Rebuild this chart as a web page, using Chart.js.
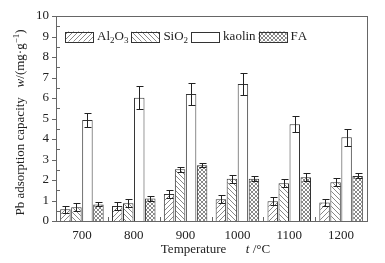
<!DOCTYPE html>
<html>
<head>
<meta charset="utf-8">
<script src="https://cdn.jsdelivr.net/npm/chart.js@4/dist/chart.umd.min.js"></script>
<style>
  html, body { margin: 0; padding: 0; background: #fff; }
  #wrap { width: 385px; height: 263px; }
</style>
</head>
<body>
<div id="wrap"><canvas id="chart" width="385" height="263"></canvas></div>
<script>
// data
const temperatures = ["700", "800", "900", "1000", "1100", "1200"];
const seriesNames = ["Al₂O₃", "SiO₂", "kaolin", "FA"];
const al2o3 = [0.57, 0.73, 1.32, 1.06, 0.96, 0.90];
const al2o3Err = [0.18, 0.20, 0.20, 0.20, 0.20, 0.15];
const sio2 = [0.67, 0.86, 2.52, 2.06, 1.84, 1.89];
const sio2Err = [0.20, 0.20, 0.12, 0.20, 0.20, 0.20];
const kaolin = [4.93, 6.01, 6.20, 6.68, 4.72, 4.08];
const kaolinErr = [0.33, 0.56, 0.52, 0.55, 0.40, 0.42];
const fa = [0.81, 1.10, 2.72, 2.06, 2.13, 2.20];
const faErr = [0.10, 0.10, 0.10, 0.12, 0.20, 0.12];
const yTicks = [0, 1, 2, 3, 4, 5, 6, 7, 8, 9, 10];

const FONT = "'Liberation Serif', 'Times New Roman', serif";
const INK = "#222";
const AXIS = "#666";

// hatch fills
function makePattern(kind) {
    const size = kind === "cross" ? 4 : 5;
    const c = document.createElement("canvas");
    c.width = size; c.height = size;
    const g = c.getContext("2d");
    g.fillStyle = "#fff";
    g.fillRect(0, 0, size, size);
    g.strokeStyle = "#555";
    g.lineWidth = 0.7;
    const fwd = () => {
        g.beginPath();
        g.moveTo(-1, size + 1); g.lineTo(size + 1, -1);
        g.moveTo(-1, 1); g.lineTo(1, -1);
        g.moveTo(size - 1, size + 1); g.lineTo(size + 1, size - 1);
        g.stroke();
    };
    const back = () => {
        g.beginPath();
        g.moveTo(-1, -1); g.lineTo(size + 1, size + 1);
        g.moveTo(size - 1, -1); g.lineTo(size + 1, 1);
        g.moveTo(-1, size - 1); g.lineTo(1, size + 1);
        g.stroke();
    };
    if (kind === "fwd") fwd();
    if (kind === "back") back();
    if (kind === "cross") { fwd(); back(); }
    return g.createPattern(c, "repeat");
}

const fills = [makePattern("fwd"), makePattern("back"), "#fff", makePattern("cross")];
const values = [al2o3, sio2, kaolin, fa];
const errors = [al2o3Err, sio2Err, kaolinErr, faErr];

// small rich-text helper: subscripts, superscripts, italics
const SUB = "₀₁₂₃₄₅₆₇₈₉";
function toParts(str) {
    const parts = [];
    for (const ch of str) {
        const i = SUB.indexOf(ch);
        if (i >= 0) parts.push([String(i), "sub"]);
        else parts.push([ch, ""]);
    }
    return parts;
}
function partFont(style, size) {
    if (style === "sub" || style === "sup") return `${Math.round(size * 0.68)}px ${FONT}`;
    if (style === "i") return `italic ${size}px ${FONT}`;
    return `${size}px ${FONT}`;
}
function richWidth(ctx, parts, size) {
    let w = 0;
    for (const [t, s] of parts) { ctx.font = partFont(s, size); w += ctx.measureText(t).width; }
    return w;
}
function drawRich(ctx, parts, x, y, size) {
    ctx.textBaseline = "middle";
    ctx.textAlign = "left";
    for (const [t, s] of parts) {
        ctx.font = partFont(s, size);
        let dy = 0;
        if (s === "sub") dy = size * 0.3;
        if (s === "sup") dy = -size * 0.35;
        ctx.fillText(t, x, y + dy);
        x += ctx.measureText(t).width;
    }
    return x;
}

const yTitle = [["Pb adsorption capacity", ""], ["   ", ""], ["w", "i"], ["/(mg·g", ""], ["−1", "sup"], [")", ""]];
const xTitle = [["Temperature", ""], ["      ", ""], ["t", "i"], [" /°C", ""]];

const decorPlugin = {
    id: "decor",
    afterDatasetsDraw(chart) {
        const ctx = chart.ctx;
        const area = chart.chartArea;
        const xs = chart.scales.x, ys = chart.scales.y;
        ctx.save();

        // error bars
        ctx.strokeStyle = INK;
        ctx.lineWidth = 1;
        chart.data.datasets.forEach((ds, di) => {
            const meta = chart.getDatasetMeta(di);
            meta.data.forEach((bar, i) => {
                const v = ds.data[i], e = errors[di][i];
                const x = Math.round(bar.x) + 0.5;
                const yt = Math.round(ys.getPixelForValue(v + e)) + 0.5;
                const yb = Math.round(ys.getPixelForValue(v - e)) + 0.5;
                ctx.beginPath();
                ctx.moveTo(x, yt); ctx.lineTo(x, yb);
                ctx.moveTo(x - 3, yt); ctx.lineTo(x + 4, yt);
                ctx.moveTo(x - 3, yb); ctx.lineTo(x + 4, yb);
                ctx.stroke();
            });
        });

        // frame
        ctx.strokeStyle = AXIS;
        ctx.strokeRect(Math.round(area.left) + 0.5, Math.round(area.top) + 0.5,
            Math.round(area.right - area.left), Math.round(area.bottom - area.top));

        // y ticks: major outward, minor inward
        ctx.beginPath();
        yTicks.forEach((t, i) => {
            const y = Math.round(ys.getPixelForValue(t)) + 0.5;
            ctx.moveTo(area.left - 4, y); ctx.lineTo(area.left, y);
            if (i < yTicks.length - 1) {
                const ym = Math.round(ys.getPixelForValue(t + 0.5)) + 0.5;
                ctx.moveTo(area.left, ym); ctx.lineTo(area.left + 4, ym);
            }
        });
        // x ticks between groups, inward
        const step = xs.getPixelForValue(1) - xs.getPixelForValue(0);
        for (let i = 0; i < temperatures.length - 1; i++) {
            const x = Math.round(xs.getPixelForValue(i) + step / 2) + 0.5;
            ctx.moveTo(x, area.bottom); ctx.lineTo(x, area.bottom - 4);
        }
        ctx.stroke();

        // legend inside the plot
        ctx.fillStyle = INK;
        let lx = area.left + 9;
        const ly = ys.getPixelForValue(9);
        chart.data.datasets.forEach((ds) => {
            ctx.fillStyle = ds.backgroundColor;
            ctx.fillRect(lx, ly - 5, 28, 10);
            ctx.strokeStyle = "#333";
            ctx.strokeRect(Math.round(lx) + 0.5, Math.round(ly - 5) + 0.5, 28, 10);
            ctx.fillStyle = INK;
            lx = drawRich(ctx, toParts(ds.label), lx + 32, ly, 13) + 3;
        });

        // axis titles
        const xw = richWidth(ctx, xTitle, 13);
        drawRich(ctx, xTitle, (area.left + area.right) / 2 - xw / 2 + 4, 250, 13);
        ctx.translate(21, (area.top + area.bottom) / 2 + 4);
        ctx.rotate(-Math.PI / 2);
        const yw = richWidth(ctx, yTitle, 13);
        drawRich(ctx, yTitle, -yw / 2, 0, 13);
        ctx.restore();
    }
};

new Chart(document.getElementById("chart"), {
    type: "bar",
    data: {
        labels: temperatures,
        datasets: seriesNames.map((name, i) => ({
            label: name,
            data: values[i],
            backgroundColor: fills[i],
            borderColor: "#333",
            borderWidth: 1,
            borderSkipped: "bottom",
            categoryPercentage: 0.85,
            barPercentage: 0.95
        }))
    },
    options: {
        responsive: false,
        animation: false,
        layout: { padding: { left: 0, top: 16, right: 18, bottom: 0 } },
        plugins: {
            legend: { display: false },
            tooltip: { enabled: false }
        },
        scales: {
            x: {
                offset: true,
                grid: { display: false, drawTicks: false },
                border: { display: false },
                ticks: { color: INK, font: { family: FONT, size: 13 }, padding: 7 },
                afterFit(scale) { scale.height = 42; }
            },
            y: {
                min: 0,
                max: 10,
                grid: { display: false, drawTicks: false },
                border: { display: false },
                ticks: {
                    stepSize: 1,
                    color: INK,
                    font: { family: FONT, size: 13 },
                    padding: 7
                },
                afterFit(scale) { scale.width = 56; }
            }
        }
    },
    plugins: [decorPlugin]
});
</script>
</body>
</html>
